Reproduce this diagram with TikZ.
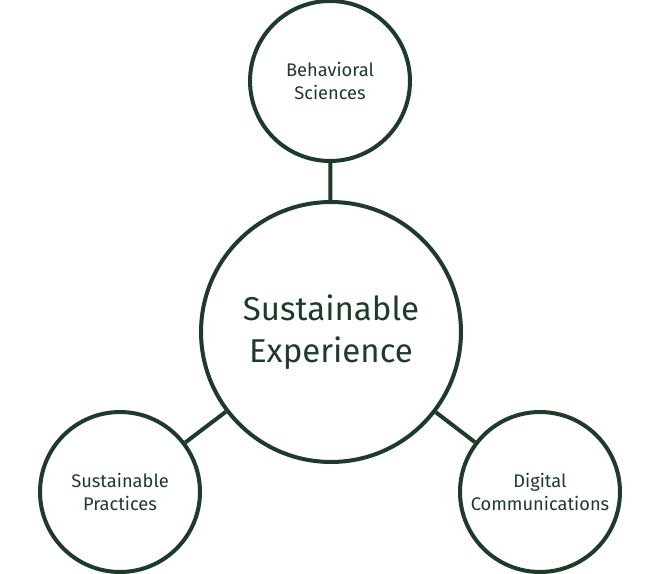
\documentclass[tikz,border=0pt]{standalone}
\usepackage{fontspec}
\setmainfont{Fira Sans}
\definecolor{forest}{HTML}{1E3B2A}
\begin{document}
\begin{tikzpicture}[
    x=0.02cm, y=-0.02cm,
    hub/.style={draw=forest, circle, line width=0.08cm, minimum size=5.2cm, inner sep=0pt, align=center, text=forest, font=\fontsize{18.8}{24}\selectfont},
    topic/.style={draw=forest, circle, line width=0.08cm, minimum size=3.2cm, inner sep=0pt, align=center, text=forest, font=\fontsize{10.4}{13}\selectfont},
    link/.style={draw=forest, line width=0.08cm},
]

\useasboundingbox (0,0) rectangle (660,574);

% Centre
\node[hub] (hub) at (331,332) {Sustainable\\Experience};

% Topics
\node[topic] (behav) at (330,81) {Behavioral\\Sciences};
\node[topic] (pract) at (120,492) {Sustainable\\Practices};
\node[topic] (digit) at (540,492) {Digital\\Communications};

% Links
\draw[link] (hub) -- (behav);
\draw[link] (hub) -- (pract);
\draw[link] (hub) -- (digit);

\end{tikzpicture}
\end{document}
